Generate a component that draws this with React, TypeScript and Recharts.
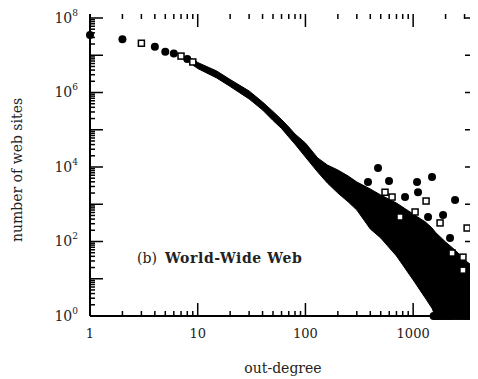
import React from 'react';
import { ComposedChart, XAxis, YAxis, Area, Scatter } from 'recharts';

// ---- data ----
const lowDegreeFilled = [
  { k: 1, n: 3.5e7 },
  { k: 2, n: 2.7e7 },
  { k: 4, n: 1.7e7 },
  { k: 5, n: 1.25e7 },
  { k: 6, n: 1.12e7 },
  { k: 8, n: 7.9e6 },
];
const lowDegreeOpen = [
  { k: 3, n: 2.1e7 },
  { k: 7, n: 9.5e6 },
  { k: 9, n: 6.6e6 },
];

const bandDegrees = [9, 10, 15, 20, 30, 40, 50, 60, 70, 80, 100, 130, 160, 200, 250, 300, 400, 500, 700, 1000, 1300, 1500, 1600, 2000, 2500, 3000, 4000];
const bandLow = [5.47e6, 4.41e6, 2.45e6, 1.45e6, 6.7e5, 3.39e5, 1.77e5, 1.08e5, 6.4e4, 4.1e4, 1.85e4, 7.3e3, 3.7e3, 2.0e3, 1.15e3, 700, 217, 124, 41, 9.3, 3.0, 1.6, 1, 1, 1, 1, 1];
const bandHigh = [7.93e6, 6.39e6, 3.78e6, 2.23e6, 1.1e6, 5.56e5, 3.09e5, 1.88e5, 1.19e5, 7.7e4, 4.4e4, 1.75e4, 1.13e4, 8.3e3, 5.7e3, 3.96e3, 2.57e3, 1.77e3, 1.08e3, 547, 334, 230, 180, 97, 56, 32, 17];

const outlierFilled = [
  { k: 472, n: 9.4e3 },
  { k: 381, n: 3.95e3 },
  { k: 597, n: 4.2e3 },
  { k: 1087, n: 3.95e3 },
  { k: 1497, n: 5.4e3 },
  { k: 1110, n: 2.1e3 },
  { k: 841, n: 1.56e3 },
  { k: 2450, n: 1.3e3 },
  { k: 1375, n: 455 },
  { k: 1896, n: 515 },
  { k: 2200, n: 124 },
];
const outlierOpen = [
  { k: 548, n: 2.1e3 },
  { k: 637, n: 1.56e3 },
  { k: 1318, n: 1.22e3 },
  { k: 1042, n: 620 },
  { k: 1778, n: 315 },
  { k: 3170, n: 230 },
  { k: 2297, n: 49 },
  { k: 2900, n: 38 },
  { k: 2900, n: 17 },
  { k: 755, n: 455 },
];
const singleSiteDegrees = [1550, 1600, 1680, 1750, 1830, 1900, 2000, 2100, 2200, 2300, 2450, 2600, 2750, 2900, 3050, 3200, 3400, 3600, 3800, 4000];

const xTicks = [1, 2, 3, 4, 5, 6, 7, 8, 9, 10, 20, 30, 40, 50, 60, 70, 80, 90, 100, 200, 300, 400, 500, 600, 700, 800, 900, 1000, 2000, 3000];
const xTickLabels: Record<number, string> = { 1: '1', 10: '10', 100: '100', 1000: '1000' };
const yDecades = [1, 1e1, 1e2, 1e3, 1e4, 1e5, 1e6, 1e7, 1e8];
const yMinorSteps = [2, 3, 4, 5, 6, 7, 8, 9];
const yLabelExponents = [0, 2, 4, 6, 8];

const yMinorTicks: number[] = [];
yDecades.slice(0, -1).forEach((d) => yMinorSteps.forEach((m) => yMinorTicks.push(m * d)));
const yTicks = [...yDecades, ...yMinorTicks].sort((a, b) => a - b);

const X_DOMAIN: [number, number] = [1, 4000];
const Y_DOMAIN: [number, number] = [1, 1.28e8];

const isDecade = (v: number) => Math.abs(Math.log10(v) - Math.round(Math.log10(v))) < 1e-9;
const xMajor = xTicks.filter(isDecade);
const xMinor = xTicks.filter((v) => !isDecade(v));

const bandRows = bandDegrees.map((k, i) => ({ k, range: [bandLow[i], bandHigh[i]] }));
const singleRows = singleSiteDegrees.map((k) => ({ k, n: 1 }));

// tick-mark anchor rows (placed through the chart's own log scales)
const bottomMajorRows = xMajor.map((k) => ({ k, n: Y_DOMAIN[0] }));
const bottomMinorRows = xMinor.map((k) => ({ k, n: Y_DOMAIN[0] }));
const topMajorRows = xMajor.map((k) => ({ k, n: Y_DOMAIN[1] }));
const topMinorRows = xMinor.map((k) => ({ k, n: Y_DOMAIN[1] }));
const leftMajorRows = yDecades.map((n) => ({ k: X_DOMAIN[0], n }));
const leftMinorRows = yMinorTicks.map((n) => ({ k: X_DOMAIN[0], n }));
const rightMajorRows = yDecades.map((n) => ({ k: X_DOMAIN[1], n }));
const rightMinorRows = yMinorTicks.map((n) => ({ k: X_DOMAIN[1], n }));

const FONT = "'DejaVu Serif', serif";
const INK = '#000';
const TW = 1.5;
const MAJ = 13;
const MIN = 5;

const BottomMajor = (p: any) => <rect x={p.cx - TW / 2} y={p.cy - MAJ} width={TW} height={MAJ} fill={INK} />;
const BottomMinor = (p: any) => <rect x={p.cx - TW / 2} y={p.cy - MIN} width={TW} height={MIN} fill={INK} />;
const TopMajor = (p: any) => <rect x={p.cx - TW / 2} y={p.cy} width={TW} height={MAJ} fill={INK} />;
const TopMinor = (p: any) => <rect x={p.cx - TW / 2} y={p.cy} width={TW} height={MIN} fill={INK} />;
const LeftMajor = (p: any) => <rect x={p.cx} y={p.cy - TW / 2} width={MAJ} height={TW} fill={INK} />;
const LeftMinor = (p: any) => <rect x={p.cx} y={p.cy - TW / 2} width={MIN} height={TW} fill={INK} />;
const RightMajor = (p: any) => <rect x={p.cx - MAJ} y={p.cy - TW / 2} width={MAJ} height={TW} fill={INK} />;
const RightMinor = (p: any) => <rect x={p.cx - MIN} y={p.cy - TW / 2} width={MIN} height={TW} fill={INK} />;

const renderBottomLabel = (props: any) => {
  const v = props.payload.value;
  const label = xTickLabels[v];
  if (!label) return <g key={`b-${v}`} />;
  return (
    <text key={`b-${v}`} x={props.x} y={Number(props.y) + 22} textAnchor="middle" fontFamily={FONT} fontSize={13} fill="#222">
      {label}
    </text>
  );
};
const renderLeftLabel = (props: any) => {
  const v = props.payload.value;
  const e = Math.round(Math.log10(v));
  if (!(isDecade(v) && yLabelExponents.includes(e))) return <g key={`l-${v}`} />;
  return (
    <text key={`l-${v}`} x={Number(props.x) - 12} y={Number(props.y) + 5} textAnchor="end" fontFamily={FONT} fontSize={14} fill="#222">
      10<tspan dy={-7} fontSize={9}>{e}</tspan>
    </text>
  );
};

const FilledMarker = (p: any) => <circle cx={p.cx} cy={p.cy} r={4} fill={INK} />;
const OpenMarker = (p: any) => (
  <rect x={p.cx - 3} y={p.cy - 3} width={6} height={6} fill="#fff" stroke={INK} strokeWidth={1.5} />
);

const W = 470;
const H = 371;

function TickOverlay() {
  return (
    <ComposedChart width={W} height={H} margin={{ top: 6, right: 0, bottom: 63, left: 82 }}>
      <XAxis dataKey="k" type="number" scale="log" domain={X_DOMAIN} hide />
      <YAxis type="number" scale="log" domain={Y_DOMAIN} hide />
      <Scatter data={bottomMajorRows} dataKey="n" shape={BottomMajor} isAnimationActive={false} />
      <Scatter data={bottomMinorRows} dataKey="n" shape={BottomMinor} isAnimationActive={false} />
      <Scatter data={topMajorRows} dataKey="n" shape={TopMajor} isAnimationActive={false} />
      <Scatter data={topMinorRows} dataKey="n" shape={TopMinor} isAnimationActive={false} />
      <Scatter data={leftMajorRows} dataKey="n" shape={LeftMajor} isAnimationActive={false} />
      <Scatter data={leftMinorRows} dataKey="n" shape={LeftMinor} isAnimationActive={false} />
      <Scatter data={rightMajorRows} dataKey="n" shape={RightMajor} isAnimationActive={false} />
      <Scatter data={rightMinorRows} dataKey="n" shape={RightMinor} isAnimationActive={false} />
    </ComposedChart>
  );
}

function MainChart() {
  return (
    <ComposedChart width={W} height={H} data={bandRows} margin={{ top: 6, right: 0, bottom: 0, left: 0 }}>
      <XAxis
        xAxisId="b"
        dataKey="k"
        type="number"
        scale="log"
        domain={X_DOMAIN}
        ticks={xTicks}
        interval={0}
        height={63}
        tickSize={0}
        tickMargin={0}
        tickLine={false}
        axisLine={{ stroke: INK, strokeWidth: 2 }}
        tick={renderBottomLabel}
      />
      <XAxis
        xAxisId="t"
        orientation="top"
        type="number"
        scale="log"
        domain={X_DOMAIN}
        height={0}
        tickLine={false}
        tick={false}
        axisLine={{ stroke: INK, strokeWidth: 2 }}
      />
      <YAxis
        yAxisId="l"
        type="number"
        scale="log"
        domain={Y_DOMAIN}
        ticks={yTicks}
        interval={0}
        width={82}
        tickSize={0}
        tickMargin={0}
        tickLine={false}
        axisLine={{ stroke: INK, strokeWidth: 2 }}
        tick={renderLeftLabel}
      />
      <YAxis
        yAxisId="r"
        orientation="right"
        type="number"
        scale="log"
        domain={Y_DOMAIN}
        width={0}
        tickLine={false}
        tick={false}
        axisLine={{ stroke: INK, strokeWidth: 2 }}
      />
      <Area
        xAxisId="b"
        yAxisId="l"
        dataKey="range"
        type="linear"
        fill={INK}
        fillOpacity={1}
        stroke={INK}
        strokeWidth={1}
        dot={false}
        activeDot={false}
        isAnimationActive={false}
      />
      <Scatter xAxisId="b" yAxisId="l" data={singleRows} dataKey="n" shape={FilledMarker} isAnimationActive={false} />
      <Scatter xAxisId="b" yAxisId="l" data={outlierFilled} dataKey="n" shape={FilledMarker} isAnimationActive={false} />
      <Scatter xAxisId="b" yAxisId="l" data={outlierOpen} dataKey="n" shape={OpenMarker} isAnimationActive={false} />
      <Scatter xAxisId="b" yAxisId="l" data={lowDegreeFilled} dataKey="n" shape={FilledMarker} isAnimationActive={false} />
      <Scatter xAxisId="b" yAxisId="l" data={lowDegreeOpen} dataKey="n" shape={OpenMarker} isAnimationActive={false} />
      <text x={129} y={255} fontFamily={FONT} fontSize={14} fill="#222">
        (b)<tspan dx={8} fontWeight="bold" letterSpacing={0.6}>World-Wide Web</tspan>
      </text>
      <text x={275} y={365} textAnchor="middle" fontFamily={FONT} fontSize={14} fill="#222">
        out-degree
      </text>
      <text
        x={9}
        y={162}
        textAnchor="middle"
        dominantBaseline="central"
        transform="rotate(-90, 9, 162)"
        fontFamily={FONT}
        fontSize={14}
        fill="#222"
      >
        number of web sites
      </text>
    </ComposedChart>
  );
}

export default function App() {
  return (
    <div style={{ position: 'relative', width: W, height: H }}>
      <div style={{ position: 'absolute', left: 0, top: 0 }}>
        <MainChart />
      </div>
      <div style={{ position: 'absolute', left: 0, top: 0, pointerEvents: 'none' }}>
        <TickOverlay />
      </div>
    </div>
  );
}
